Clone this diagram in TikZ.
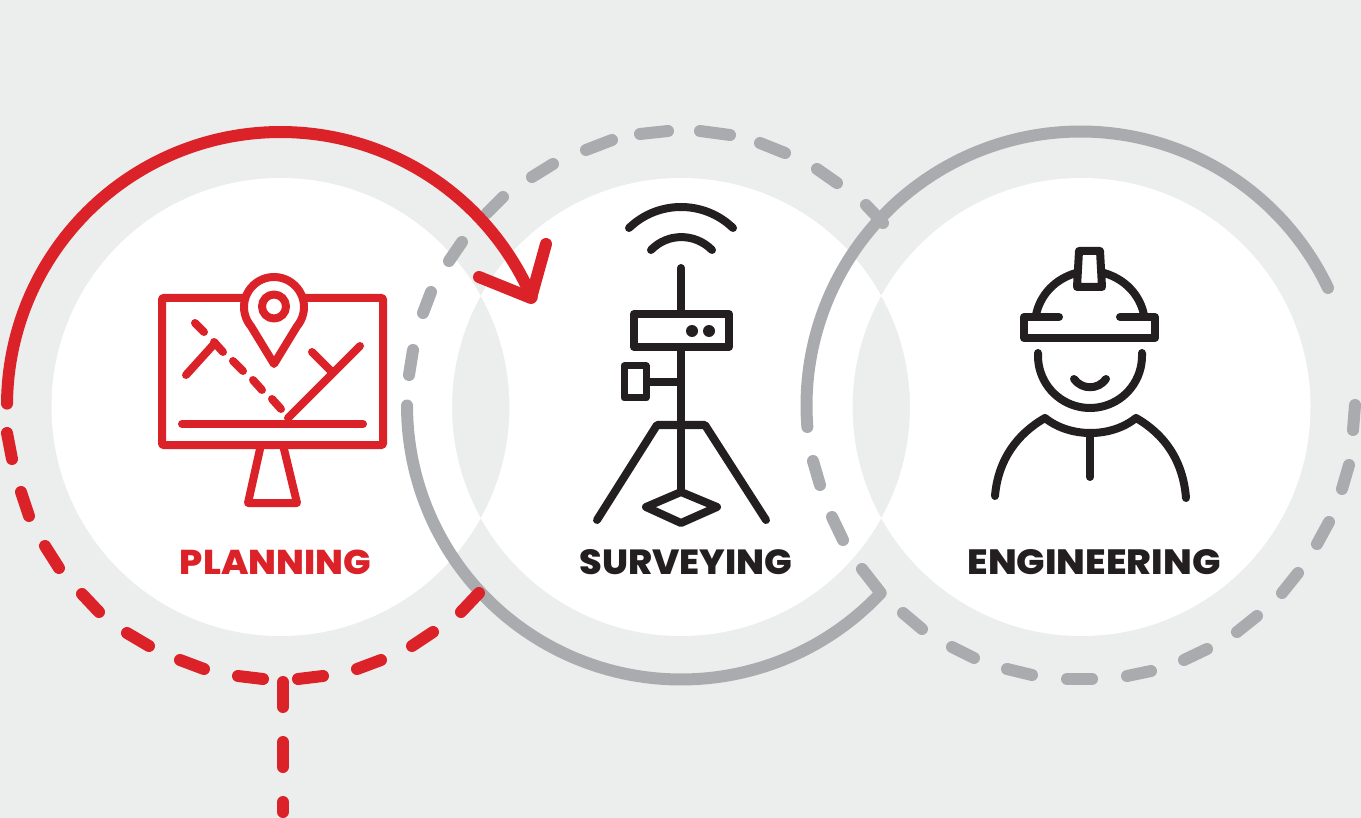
\documentclass[tikz,border=0pt]{standalone}
\usepackage{fontspec}
\usepackage{graphicx}
\newfontfamily\labfont{Poppins}[BoldFont=Poppins ExtraBold,BoldFeatures={LetterSpace=0}]
\definecolor{bgc}{HTML}{ECEEED}
\definecolor{ringgray}{HTML}{A9ABAE}
\definecolor{redc}{HTML}{DC2229}
\definecolor{inkc}{HTML}{231F20}
\tikzset{
  ringsolid/.style={line width=12pt,line cap=round,line join=round},
  ringdash/.style={line width=12pt,line cap=round},
  iconred/.style={draw=redc,line width=8pt,line cap=round,line join=round},
  iconink/.style={draw=inkc,line width=8pt,line cap=round,line join=round},
  lab/.style={inner sep=0pt,font=\labfont\bfseries\fontsize{34}{34}\selectfont}
}
\begin{document}
\begin{tikzpicture}[x=1pt,y=-1pt]
\useasboundingbox (0,0) rectangle (1361,818);
\fill[bgc] (0,0) rectangle (1361,818);
\fill[white,even odd rule] (280.5,407) circle (229pt) (681,407) circle (229pt) (1081.5,407) circle (229pt);
% gray dashes, middle ring upper half
\foreach \a/\b/\c/\d in {409/375/413/350,423/313/431/292,449/261/462/242,487/213/503/197,532/177/553/164,586/150/612/140,640/134/668/131,700/131/730/135,760/143/785/153,817/169/837/183,866/205/883/223}
  \draw[ringgray,ringdash] (\a,\b) -- (\c,\d);
% gray dashes, right ring lower half
\foreach \a/\b/\c/\d in {813/461/820/485,832/517/843/540,862/569/880/592,903/613/922/629,952/647/974/658,1007/669/1032/675,1067/679/1092/679,1127/676/1151/671,1184/660/1207/649,1237/632/1257/616,1282/593/1298/573,1317/544/1329/522,1342/489/1349/465,1353/430/1355/405}
  \draw[ringgray,ringdash] (\a,\b) -- (\c,\d);
% gray solid arcs
\draw[ringgray,ringsolid] plot[smooth,domain=180:43.2,samples=80] ({681+274*cos(\x)},{405.5+274*sin(\x)});
\draw[ringgray,ringsolid] plot[smooth,domain=175.5:334.6,samples=80] ({1080.5+274*cos(\x)},{405.5+274*sin(\x)});
% red dashes
\foreach \a/\b/\c/\d in {7/433/12/459,21/492/29/516,45/546/59/568,82/594/99/612,127/633/149/646,180/660/204/669,238/676/263/679,298/679/323/676,357/669/381/660,412/646/433/632,461/612/479/593,283/682/283/707,283/742/283/767,283/802/283/812}
  \draw[redc,ringdash] (\a,\b) -- (\c,\d);
% red arc and head
\draw[redc,ringsolid] plot[smooth,domain=180.4:336.7,samples=80] ({280.5+273.5*cos(\x)},{405.5+273.5*sin(\x)});
\draw[redc,ringsolid] (479,277) -- (531,298) -- (546,244);
% monitor
\draw[iconred,fill=white,rounded corners=1pt] (162,298) rectangle (383,445);
\draw[iconred] (260,449) -- (248,503) -- (297,503) -- (284,449);
\foreach \a/\b/\c/\d in {195/323/204/332,214/342/223/352,233/361/243/371,253/380/262/390,272/399/281/409}
  \draw[iconred] (\a,\b) -- (\c,\d);
\draw[iconred] (186,375) -- (215,343);
\draw[iconred] (360,346) -- (288,418);
\draw[iconred] (312,352) -- (332,372);
\draw[iconred] (182,424) -- (363,424);
\draw[iconred,fill=white] (274,364) -- plot[smooth,domain=140:400,samples=40] ({274+30*cos(\x)},{307+30*sin(\x)}) -- cycle;
\draw[iconred] (274,306.5) circle (12pt);
% survey pole
\draw[iconink] (629,228) .. controls (658,200) and (704,200) .. (733,228);
\draw[iconink] (651,250) .. controls (667.6,232.8) and (695,232.8) .. (712,250);
\draw[iconink] (681,268) -- (681,490);
\draw[iconink,fill=white] (634,314) rectangle (729,347);
\fill[inkc] (692,331) circle (6pt) (709,331) circle (6pt);
\draw[iconink] (646,382) -- (681,382);
\draw[iconink,line width=7pt,fill=white] (624,366) rectangle (646,398);
\draw[iconink] (597,520) -- (657,425) -- (705,425) -- (766,520);
\draw[iconink] (646,507) -- (681,492) -- (717,507) -- (681,523) -- cycle;
% engineer
\draw[iconink] (1059,317) -- (1024,317) -- (1024,338) -- (1155,338) -- (1155,317) -- (1120,317);
\draw[iconink] (1036,315) .. controls (1040,295) and (1055,279) .. (1076,273);
\draw[iconink] (1144,315) .. controls (1140,295) and (1125,279) .. (1104,273);
\draw[iconink] (1079,251) -- (1100,251) -- (1102,287) -- (1077,287) -- cycle;
\draw[iconink] (1038,353) -- plot[smooth,domain=180:0,samples=40] ({1090+52*cos(\x)},{356+52*sin(\x)}) -- (1142,353);
\draw[iconink] (1074,379) .. controls (1082,390) and (1098,390) .. (1106,379);
\draw[iconink] (995,496) .. controls (998,460) and (1017,434) .. (1045,418) .. controls (1070,438) and (1111,438) .. (1136,418) .. controls (1164,434) and (1183,460) .. (1186,498);
\draw[iconink] (1090,435) -- (1090,477);
% labels
\node[lab,text=redc] (planning) at (275.5,562) {\resizebox{191pt}{24.5pt}{PLANNING}};
\node[lab,text=inkc] (surveying) at (686,562) {\resizebox{213pt}{25pt}{SURVEYING}};
\node[lab,text=inkc] (engineering) at (1094,562) {\resizebox{253pt}{25pt}{ENGINEERING}};
\end{tikzpicture}
\end{document}
